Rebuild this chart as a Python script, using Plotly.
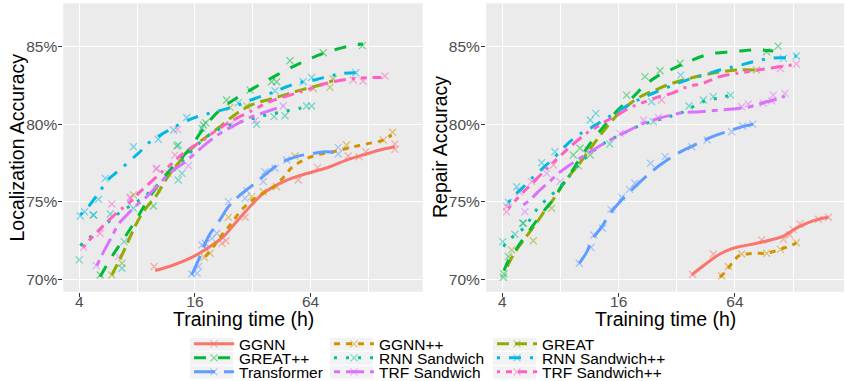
import math
import plotly.graph_objects as go

# ---------------- data ----------------
MODELS = ["GGNN", "GGNN++", "GREAT", "GREAT++", "RNN Sandwich", "RNN Sandwich++",
          "Transformer", "TRF Sandwich", "TRF Sandwich++"]

X_TICKS = [4, 16, 64]
X_MINOR = [8, 32, 128]
Y_TICKS = [70, 75, 80, 85]
Y_TICK_TEXT = ["70%", "75%", "80%", "85%"]

# ---- Localization accuracy (left panel) ----
LOC_GGNN_PTS_H = [9.81, 22.1, 23.2, 29.2, 55.2, 69.6, 100.5, 114.6, 124, 176, 176]
LOC_GGNN_PTS_ACC = [70.82, 72.32, 72.49, 74.0, 76.4, 77.2, 77.95, 77.9, 78.23, 78.73, 78.38]
LOC_GGNN_FIT_H = [9.93, 12.4, 15.7, 19.2, 22.5, 26.4, 31.0, 36.3, 44.3, 54.1, 66.1, 80.7, 98.5, 125, 147, 176]
LOC_GGNN_FIT_ACC = [70.56, 70.92, 71.46, 72.11, 72.75, 73.72, 74.69, 75.54, 76.19, 76.62, 76.94, 77.26, 77.69, 78.08, 78.34, 78.55]

LOC_GGNNPP_PTS_H = [17.9, 19.2, 23.9, 31.6, 36.3, 42.6, 53.0, 98.5, 153, 171]
LOC_GGNNPP_PTS_ACC = [71.42, 71.68, 74.0, 75.33, 75.65, 75.97, 77.95, 78.66, 78.98, 79.48]
LOC_GGNNPP_FIT_H = [18.1, 20.0, 22.1, 24.4, 27.5, 31.0, 35.6, 40.9, 46.1, 51, 58, 68.8, 83.9, 102.5, 125, 153, 169]
LOC_GGNNPP_FIT_ACC = [71.46, 72.11, 72.86, 73.50, 74.36, 75.01, 75.50, 75.95, 76.55, 77.2, 77.65, 78.02, 78.23, 78.49, 78.73, 78.98, 79.31]

LOC_GREAT_PTS_H = [5.91, 6.67, 7.66, 10.13, 24.4, 29.8, 66.1, 80.7, 83.9]
LOC_GREAT_PTS_ACC = [70.28, 71.03, 75.44, 75.80, 81.09, 81.18, 82.31, 82.38, 82.92]
LOC_GREAT_FIT_H = [5.91, 6.28, 6.80, 7.51, 8.30, 9.17, 10.13, 11.42, 12.87, 14.5, 16.4, 18.4, 21.6, 26.4, 32.2, 39.3, 48.0, 58.6, 71.6, 83.9]
LOC_GREAT_FIT_ACC = [70.28, 70.92, 71.78, 72.97, 74.04, 74.79, 75.44, 76.51, 77.37, 78.12, 78.73, 79.20, 79.84, 80.70, 81.30, 81.61, 81.93, 82.25, 82.53, 82.81]

LOC_GREATPP_PTS_H = [5.14, 9.73, 12.9, 17.7, 18.2, 23.4, 31.0, 40.1, 42.6, 50.0, 74.5, 119]
LOC_GREATPP_PTS_ACC = [70.28, 74.73, 78.60, 79.95, 80.10, 81.56, 82.21, 82.74, 82.74, 84.10, 84.61, 85.07]
LOC_GREATPP_FIT_H = [5.14, 5.91, 6.94, 7.98, 8.99, 10.55, 11.88, 13.4, 15.1, 17.0, 19.2, 21.6, 25.4, 32.2, 42.6, 56.3, 74.5, 98.5, 120]
LOC_GREATPP_FIT_ACC = [70.17, 71.46, 72.75, 73.93, 75.01, 76.30, 77.05, 77.74, 78.45, 79.41, 80.27, 80.92, 81.56, 82.31, 83.17, 83.93, 84.57, 85.0, 85.17]

LOC_RNNS_PTS_H = [4.0, 4.75, 5.80, 6.67, 6.85, 7.66, 13.1, 13.7, 13.1, 17.4, 33.5, 41.3, 47.1, 61.0, 64.8]
LOC_RNNS_PTS_ACC = [71.25, 74.15, 74.21, 70.71, 72.43, 74.58, 76.40, 76.83, 78.66, 79.74, 79.99, 80.49, 80.55, 81.18, 81.18]
LOC_RNNS_FIT_H = [4.05, 4.47, 4.94, 5.46, 6.03, 6.80, 7.66, 8.64, 9.74, 10.97, 12.37, 13.9, 15.7, 17.7, 20.8, 25.4, 31.0, 37.8, 46.1, 56.3, 63.5]
LOC_RNNS_FIT_ACC = [72.17, 72.64, 73.07, 73.50, 74.00, 74.47, 74.86, 75.29, 75.87, 76.40, 77.01, 77.69, 78.38, 79.03, 79.59, 80.02, 80.32, 80.60, 80.81, 81.03, 81.18]

LOC_RNNSPP_PTS_H = [4.05, 4.26, 4.73, 5.04, 5.46, 7.66, 10.3, 12.4, 14.5, 26.9, 41.8, 58.6, 64.8, 110]
LOC_RNNSPP_PTS_ACC = [74.08, 74.36, 74.15, 75.16, 76.51, 78.55, 79.03, 79.63, 80.44, 81.39, 82.16, 82.74, 83.02, 83.32]
LOC_RNNSPP_FIT_H = [4.05, 4.47, 5.14, 5.68, 6.53, 8.47, 9.36, 11.2, 12.6, 15.1, 17.7, 21.2, 25.4, 29.8, 34.9, 41.8, 48.0, 58.6, 68.8, 80.7, 94.6, 110]
LOC_RNNSPP_FIT_ACC = [74.15, 74.69, 75.72, 76.45, 77.09, 78.34, 78.88, 79.48, 79.84, 80.32, 80.60, 80.85, 81.13, 81.46, 81.78, 82.10, 82.42, 82.74, 82.89, 83.11, 83.28, 83.32]

LOC_TRANS_PTS_H = [15.4, 16.4, 16.7, 17.4, 18.1, 19.6, 20.8, 23.9, 29.2, 29.8, 36.3, 37.0, 41.8, 48.0, 89.1, 89.1]
LOC_TRANS_PTS_ACC = [70.34, 70.39, 70.82, 72.21, 72.32, 72.64, 72.97, 75.01, 75.22, 75.72, 76.30, 76.94, 77.16, 77.69, 78.51, 78.08]
LOC_TRANS_FIT_H = [15.4, 17.0, 18.8, 21.6, 23.9, 27.5, 32.9, 37.8, 44.3, 54.1, 66.1, 77.5, 87.4]
LOC_TRANS_FIT_ACC = [70.28, 71.46, 72.75, 73.83, 74.69, 75.44, 76.19, 76.83, 77.48, 77.91, 78.12, 78.23, 78.17]

LOC_TRFS_PTS_H = [4.90, 6.41, 7.37, 10.13, 11.6, 14.8, 24.4, 32.9, 46.1]
LOC_TRFS_PTS_ACC = [70.88, 71.46, 75.22, 77.16, 76.83, 77.33, 79.97, 80.23, 81.18]
LOC_TRFS_FIT_H = [4.94, 5.25, 5.91, 6.41, 7.08, 7.98, 8.99, 10.55, 12.1, 13.9, 15.7, 18.4, 21.6, 25.4, 31.0, 37.8, 46.1]
LOC_TRFS_FIT_ACC = [70.88, 71.57, 72.75, 73.57, 74.15, 74.79, 75.33, 76.23, 76.94, 77.48, 78.02, 78.77, 79.41, 79.89, 80.44, 80.81, 81.18]

LOC_TRFSPP_PTS_H = [4.21, 5.14, 5.91, 7.37, 10.05, 12.6, 13.0, 106.6, 120, 156]
LOC_TRFSPP_PTS_ACC = [72.06, 72.97, 74.86, 75.29, 77.11, 78.02, 79.67, 82.85, 82.79, 83.11]
LOC_TRFSPP_FIT_H = [4.18, 4.56, 4.98, 5.53, 6.28, 7.22, 8.30, 9.36, 10.55, 11.9, 13.4, 15.4, 17.7, 20.8, 25.4, 31.0, 39.3, 50.0, 61.0, 77.5, 98.5, 125, 156]
LOC_TRFSPP_FIT_ACC = [72.06, 72.58, 73.07, 73.65, 74.30, 74.90, 75.65, 76.23, 76.83, 77.37, 77.95, 78.51, 78.98, 79.63, 80.27, 80.81, 81.46, 81.88, 82.21, 82.64, 82.89, 83.0, 83.02]

# ---- Repair accuracy (right panel) ----
REP_GGNN_PTS_H = [38.6, 49.4, 87.9, 114, 123, 128, 139, 173, 195]
REP_GGNN_PTS_ACC = [70.32, 71.63, 72.54, 72.58, 72.86, 73.22, 73.57, 73.87, 74.0]
REP_GGNN_FIT_H = [38.2, 42.2, 47.5, 53.5, 60.3, 67.9, 82.8, 101, 114, 128, 150, 173, 195]
REP_GGNN_FIT_ACC = [70.28, 70.71, 71.20, 71.63, 71.93, 72.11, 72.32, 72.58, 72.79, 73.18, 73.61, 73.87, 74.0]

REP_GGNNPP_PTS_H = [54.6, 59.1, 69.3, 93.3, 110, 133]
REP_GGNNPP_PTS_ACC = [70.21, 70.82, 71.63, 71.68, 71.93, 72.36]
REP_GGNNPP_FIT_H = [53.5, 58.0, 62.7, 67.9, 73.6, 82.8, 93.3, 105, 114, 123, 133]
REP_GGNNPP_FIT_ACC = [70.13, 70.60, 71.14, 71.57, 71.63, 71.68, 71.68, 71.85, 72.0, 72.15, 72.36]

REP_GREAT_PTS_H = [4.47, 5.79, 7.20, 9.90, 82.8]
REP_GREAT_PTS_ACC = [71.89, 72.49, 74.58, 77.31, 83.50]
REP_GREAT_FIT_H = [4.24, 4.56, 4.94, 5.45, 6.02, 6.65, 7.35, 8.11, 8.96, 9.90, 10.9, 12.3, 13.6, 15.3, 16.9, 19.1, 21.5, 25.2, 29.5, 34.6, 43.9, 53.5, 65.3, 82.8]
REP_GREAT_FIT_ACC = [70.82, 71.57, 72.21, 72.92, 73.65, 74.43, 75.16, 75.97, 76.73, 77.37, 78.08, 78.98, 79.67, 80.44, 80.96, 81.50, 81.88, 82.25, 82.59, 82.85, 83.17, 83.37, 83.50, 83.50]

REP_GREATPP_PTS_H = [4.05, 4.08, 4.30, 5.14, 9.32, 10.1, 11.4, 17.6, 21.9, 26.2, 33.2, 93.3, 107]
REP_GREATPP_PTS_ACC = [70.13, 70.34, 71.46, 73.61, 78.02, 78.45, 78.02, 81.88, 83.07, 83.45, 83.93, 84.68, 85.04]
REP_GREATPP_FIT_H = [4.08, 4.30, 4.75, 5.24, 5.79, 6.52, 7.35, 8.11, 9.14, 10.1, 11.1, 12.3, 13.6, 15.0, 16.9, 19.1, 21.9, 25.2, 29.5, 34.6, 37.4, 47.5, 62.7, 79.6, 101]
REP_GREATPP_FIT_ACC = [70.56, 71.20, 72.0, 72.75, 73.50, 74.36, 75.16, 76.02, 76.94, 77.80, 78.55, 79.31, 79.95, 80.60, 81.24, 81.78, 82.53, 83.07, 83.50, 83.88, 84.08, 84.53, 84.68, 84.79, 84.72]

REP_RNNS_PTS_H = [4.02, 4.65, 5.10, 14.4, 24.2, 37.0, 43.9, 49.4, 60.8]
REP_RNNS_PTS_ACC = [72.43, 72.90, 73.61, 78.73, 80.17, 81.18, 81.56, 81.78, 81.88]
REP_RNNS_FIT_H = [4.05, 4.38, 4.84, 5.35, 5.74, 6.22, 6.78, 7.49, 8.28, 9.14, 10.1, 11.4, 12.8, 14.4, 16.3, 19.1, 22.3, 26.2, 30.1, 33.9, 37.4, 43.9, 51.4, 61.5]
REP_RNNS_FIT_ACC = [72.11, 72.60, 73.01, 73.50, 74.15, 74.69, 75.16, 75.65, 76.19, 76.83, 77.48, 78.12, 78.60, 78.98, 79.31, 79.74, 80.06, 80.32, 80.53, 80.75, 81.03, 81.46, 81.67, 81.88]

REP_RNNSPP_PTS_H = [4.30, 4.75, 6.39, 7.49, 11.4, 12.2, 23.7, 33.5, 114, 133]
REP_RNNSPP_PTS_ACC = [74.96, 75.97, 77.52, 78.23, 80.27, 80.70, 81.45, 83.17, 84.25, 84.40]
REP_RNNSPP_FIT_H = [4.30, 4.65, 5.10, 5.56, 6.27, 7.06, 7.80, 8.96, 10.1, 11.6, 13.6, 16.0, 18.3, 21.5, 25.2, 30.7, 36.0, 43.9, 53.5, 65.3, 79.6, 97.1, 118, 133]
REP_RNNSPP_FIT_ACC = [74.96, 75.44, 75.91, 76.40, 77.0, 77.59, 78.12, 78.88, 79.37, 79.80, 80.32, 80.87, 81.30, 81.73, 82.10, 82.53, 82.85, 83.17, 83.50, 83.75, 84.03, 84.25, 84.31, 84.40]

REP_TRANS_PTS_H = [10.0, 11.5, 11.9, 13.2, 14.6, 16.6, 18.2, 19.4, 23.4, 27.8, 38.2, 46.0, 61.5, 70.1, 79.0]
REP_TRANS_PTS_ACC = [71.03, 72.06, 72.86, 73.29, 74.51, 75.29, 75.80, 76.19, 77.48, 77.91, 78.55, 78.98, 79.52, 79.89, 80.01]
REP_TRANS_FIT_H = [10.0, 10.9, 11.8, 13.1, 14.4, 16.3, 19.1, 22.3, 26.2, 31.9, 39.0, 47.5, 58.0, 67.9, 79.6]
REP_TRANS_FIT_ACC = [71.03, 71.72, 72.64, 73.40, 74.21, 75.01, 75.87, 76.66, 77.37, 78.08, 78.62, 79.13, 79.52, 79.80, 80.01]

REP_TRFS_PTS_H = [5.24, 6.78, 7.95, 11.1, 16.3, 21.5, 25.7, 69.3, 75.0, 89.7, 99.1, 101, 116]
REP_TRFS_PTS_ACC = [74.36, 76.83, 76.30, 78.34, 79.41, 80.27, 80.44, 81.13, 81.30, 81.35, 81.52, 81.88, 81.99]
REP_TRFS_FIT_H = [5.14, 5.67, 6.27, 6.92, 7.80, 8.78, 9.90, 11.4, 13.3, 15.6, 18.3, 21.5, 25.2, 29.5, 34.6, 42.2, 51.4, 62.7, 76.5, 89.7, 105, 116]
REP_TRFS_FIT_ACC = [74.79, 75.22, 75.76, 76.23, 76.83, 77.31, 77.74, 78.23, 78.73, 79.20, 79.63, 80.06, 80.34, 80.57, 80.75, 80.80, 80.90, 80.98, 81.13, 81.39, 81.61, 81.82]

REP_TRFSPP_PTS_H = [4.21, 4.21, 4.90, 5.67, 7.35, 26.7, 110, 133]
REP_TRFSPP_PTS_ACC = [74.36, 74.70, 75.65, 76.30, 77.37, 81.56, 83.60, 83.88]
REP_TRFSPP_FIT_H = [4.30, 4.71, 5.10, 5.61, 6.22, 6.92, 7.80, 8.68, 9.78, 11.0, 12.6, 14.1, 16.1, 18.3, 21.5, 25.2, 30.1, 36.0, 43.9, 53.5, 65.3, 79.6, 101, 133]
REP_TRFSPP_FIT_ACC = [74.58, 75.12, 75.59, 76.08, 76.66, 77.22, 77.84, 78.38, 78.94, 79.46, 79.89, 80.27, 80.66, 81.07, 81.41, 81.73, 81.99, 82.40, 82.65, 83.07, 83.28, 83.45, 83.65, 83.86]

LOC = {
    "GGNN": (LOC_GGNN_PTS_H, LOC_GGNN_PTS_ACC, LOC_GGNN_FIT_H, LOC_GGNN_FIT_ACC),
    "GGNN++": (LOC_GGNNPP_PTS_H, LOC_GGNNPP_PTS_ACC, LOC_GGNNPP_FIT_H, LOC_GGNNPP_FIT_ACC),
    "GREAT": (LOC_GREAT_PTS_H, LOC_GREAT_PTS_ACC, LOC_GREAT_FIT_H, LOC_GREAT_FIT_ACC),
    "GREAT++": (LOC_GREATPP_PTS_H, LOC_GREATPP_PTS_ACC, LOC_GREATPP_FIT_H, LOC_GREATPP_FIT_ACC),
    "RNN Sandwich": (LOC_RNNS_PTS_H, LOC_RNNS_PTS_ACC, LOC_RNNS_FIT_H, LOC_RNNS_FIT_ACC),
    "RNN Sandwich++": (LOC_RNNSPP_PTS_H, LOC_RNNSPP_PTS_ACC, LOC_RNNSPP_FIT_H, LOC_RNNSPP_FIT_ACC),
    "Transformer": (LOC_TRANS_PTS_H, LOC_TRANS_PTS_ACC, LOC_TRANS_FIT_H, LOC_TRANS_FIT_ACC),
    "TRF Sandwich": (LOC_TRFS_PTS_H, LOC_TRFS_PTS_ACC, LOC_TRFS_FIT_H, LOC_TRFS_FIT_ACC),
    "TRF Sandwich++": (LOC_TRFSPP_PTS_H, LOC_TRFSPP_PTS_ACC, LOC_TRFSPP_FIT_H, LOC_TRFSPP_FIT_ACC),
}
REP = {
    "GGNN": (REP_GGNN_PTS_H, REP_GGNN_PTS_ACC, REP_GGNN_FIT_H, REP_GGNN_FIT_ACC),
    "GGNN++": (REP_GGNNPP_PTS_H, REP_GGNNPP_PTS_ACC, REP_GGNNPP_FIT_H, REP_GGNNPP_FIT_ACC),
    "GREAT": (REP_GREAT_PTS_H, REP_GREAT_PTS_ACC, REP_GREAT_FIT_H, REP_GREAT_FIT_ACC),
    "GREAT++": (REP_GREATPP_PTS_H, REP_GREATPP_PTS_ACC, REP_GREATPP_FIT_H, REP_GREATPP_FIT_ACC),
    "RNN Sandwich": (REP_RNNS_PTS_H, REP_RNNS_PTS_ACC, REP_RNNS_FIT_H, REP_RNNS_FIT_ACC),
    "RNN Sandwich++": (REP_RNNSPP_PTS_H, REP_RNNSPP_PTS_ACC, REP_RNNSPP_FIT_H, REP_RNNSPP_FIT_ACC),
    "Transformer": (REP_TRANS_PTS_H, REP_TRANS_PTS_ACC, REP_TRANS_FIT_H, REP_TRANS_FIT_ACC),
    "TRF Sandwich": (REP_TRFS_PTS_H, REP_TRFS_PTS_ACC, REP_TRFS_FIT_H, REP_TRFS_FIT_ACC),
    "TRF Sandwich++": (REP_TRFSPP_PTS_H, REP_TRFSPP_PTS_ACC, REP_TRFSPP_FIT_H, REP_TRFSPP_FIT_ACC),
}

# ---------------- styles ----------------
COLORS = ["#F8766D", "#D39200", "#93AA00", "#00BA38", "#00C19F",
          "#00B9E3", "#619CFF", "#DB72FB", "#FF61C3"]
LW = 3.0
# ggplot linetypes: solid, 22, 42, 44, 13, 1343, 73, 2262, 12223242  (scaled by line width)
DASH_CODES = [None, "22", "42", "44", "13", "1343", "73", "2262", "12223242"]


def dash_of(code):
    if code is None:
        return "solid"
    return ",".join(f"{int(c, 16) * LW:g}px" for c in code)


def rgba(hx, a):
    h = hx.lstrip("#")
    return f"rgba({int(h[0:2], 16)},{int(h[2:4], 16)},{int(h[4:6], 16)},{a})"


W, H = 845, 381
FONT = "Liberation Sans, Arial, Helvetica, sans-serif"
TICK_FONT = dict(family=FONT, size=15.5, color="#4D4D4D")
TITLE_FONT = dict(family=FONT, size=19.5, color="#000000")

fig = go.Figure()

# points first, then smooth lines on top
for panel, data in (("1", LOC), ("2", REP)):
    xa = "x" if panel == "1" else "x2"
    ya = "y" if panel == "1" else "y2"
    for i, m in enumerate(MODELS):
        ph, pa, _, _ = data[m]
        fig.add_trace(go.Scatter(
            x=ph, y=pa, mode="markers", xaxis=xa, yaxis=ya, showlegend=False,
            marker=dict(symbol="x-thin", size=7, color=rgba(COLORS[i], 0.5),
                        line=dict(width=1.3, color=rgba(COLORS[i], 0.5))),
            hoverinfo="skip"))
for panel, data in (("1", LOC), ("2", REP)):
    xa = "x" if panel == "1" else "x2"
    ya = "y" if panel == "1" else "y2"
    for i, m in enumerate(MODELS):
        _, _, fh, fa = data[m]
        fig.add_trace(go.Scatter(
            x=fh, y=fa, mode="lines", xaxis=xa, yaxis=ya, showlegend=False,
            line=dict(color=COLORS[i], width=LW, dash=dash_of(DASH_CODES[i]),
                      shape="spline", smoothing=1.0),
            hoverinfo="skip"))

# ---------------- legend (3 x 3 grid, ggplot-like keys) ----------------
LEG_ROWS_PX = [344.3, 358.3, 372.3]
LEG_COLS_PX = [190, 330, 493]
KEY_W, KEY_H = 43, 13
shapes = []
for i, m in enumerate(MODELS):
    r, c = divmod(i, 3)
    lname = "legend" if i == 0 else f"legend{i + 1}"
    fig.add_trace(go.Scatter(
        x=[None], y=[None], mode="lines+markers", name=m, legend=lname,
        showlegend=True, xaxis="x", yaxis="y",
        line=dict(color=COLORS[i], width=LW, dash=dash_of(DASH_CODES[i])),
        marker=dict(symbol="x-thin", size=7, color=rgba(COLORS[i], 0.5),
                    line=dict(width=1.3, color=rgba(COLORS[i], 0.5)))))
    fig.update_layout(**{lname: dict(
        x=(LEG_COLS_PX[c] - 1) / W, y=1 - LEG_ROWS_PX[r] / H,
        xanchor="left", yanchor="middle", xref="paper", yref="paper",
        orientation="v", bgcolor="rgba(0,0,0,0)", borderwidth=0,
        itemwidth=40, tracegroupgap=0,
        font=dict(family=FONT, size=15.5, color="#000000"))})
    shapes.append(dict(type="rect", xref="paper", yref="paper", layer="below",
                       x0=LEG_COLS_PX[c] / W, x1=(LEG_COLS_PX[c] + KEY_W) / W,
                       y0=1 - (LEG_ROWS_PX[r] + KEY_H / 2) / H,
                       y1=1 - (LEG_ROWS_PX[r] - KEY_H / 2) / H,
                       fillcolor="#F2F2F2", line=dict(width=0)))

# ---------------- axes ----------------
L2 = math.log10(2)
common_x = dict(type="log", tickmode="array", tickvals=X_TICKS,
                ticktext=[str(v) for v in X_TICKS],
                showgrid=True, gridcolor="white", gridwidth=1.3,
                minor=dict(tickmode="array", tickvals=X_MINOR, showgrid=True,
                           gridcolor="white", gridwidth=0.6, ticks=""),
                ticks="outside", ticklen=4, tickwidth=1.1, tickcolor="#333333",
                ticklabelstandoff=-8,
                tickfont=TICK_FONT, zeroline=False, showline=False, fixedrange=True)
common_y = dict(range=[69.2, 87.8], tickmode="array", tickvals=Y_TICKS, ticktext=Y_TICK_TEXT,
                showgrid=True, gridcolor="white", gridwidth=1.3,
                ticks="outside", ticklen=4, tickwidth=1.1, tickcolor="#333333",
                ticklabelstandoff=-2,
                tickfont=TICK_FONT, zeroline=False, showline=False,
                domain=[1 - 291.7 / H, 1 - 3.3 / H], fixedrange=True)

fig.update_layout(
    xaxis=dict(common_x, domain=[63.3 / W, 422.7 / W], anchor="y",
               range=[1.7238 * L2, 7.939 * L2]),
    xaxis2=dict(common_x, domain=[486 / W, 844 / W], anchor="y2",
                range=[1.720 * L2, 7.874 * L2]),
    yaxis=dict(common_y, anchor="x"),
    yaxis2=dict(common_y, anchor="x2"),
    width=W, height=H,
    margin=dict(l=0, r=0, t=0, b=0, pad=0, autoexpand=False),
    paper_bgcolor="white", plot_bgcolor="#EBEBEB",
    font=dict(family=FONT),
    shapes=shapes,
    annotations=[
        dict(text="Localization Accuracy", x=16 / W, y=1 - 147.5 / H, xref="paper", yref="paper",
             textangle=-90, showarrow=False, xanchor="center", yanchor="middle", font=TITLE_FONT),
        dict(text="Repair Accuracy", x=439.5 / W, y=1 - 147.5 / H, xref="paper", yref="paper",
             textangle=-90, showarrow=False, xanchor="center", yanchor="middle", font=TITLE_FONT),
        dict(text="Training time (h)", x=243 / W, y=1 - 319 / H, xref="paper", yref="paper",
             showarrow=False, xanchor="center", yanchor="middle", font=TITLE_FONT),
        dict(text="Training time (h)", x=665 / W, y=1 - 319 / H, xref="paper", yref="paper",
             showarrow=False, xanchor="center", yanchor="middle", font=TITLE_FONT),
    ],
)

fig.write_html("out.html")
